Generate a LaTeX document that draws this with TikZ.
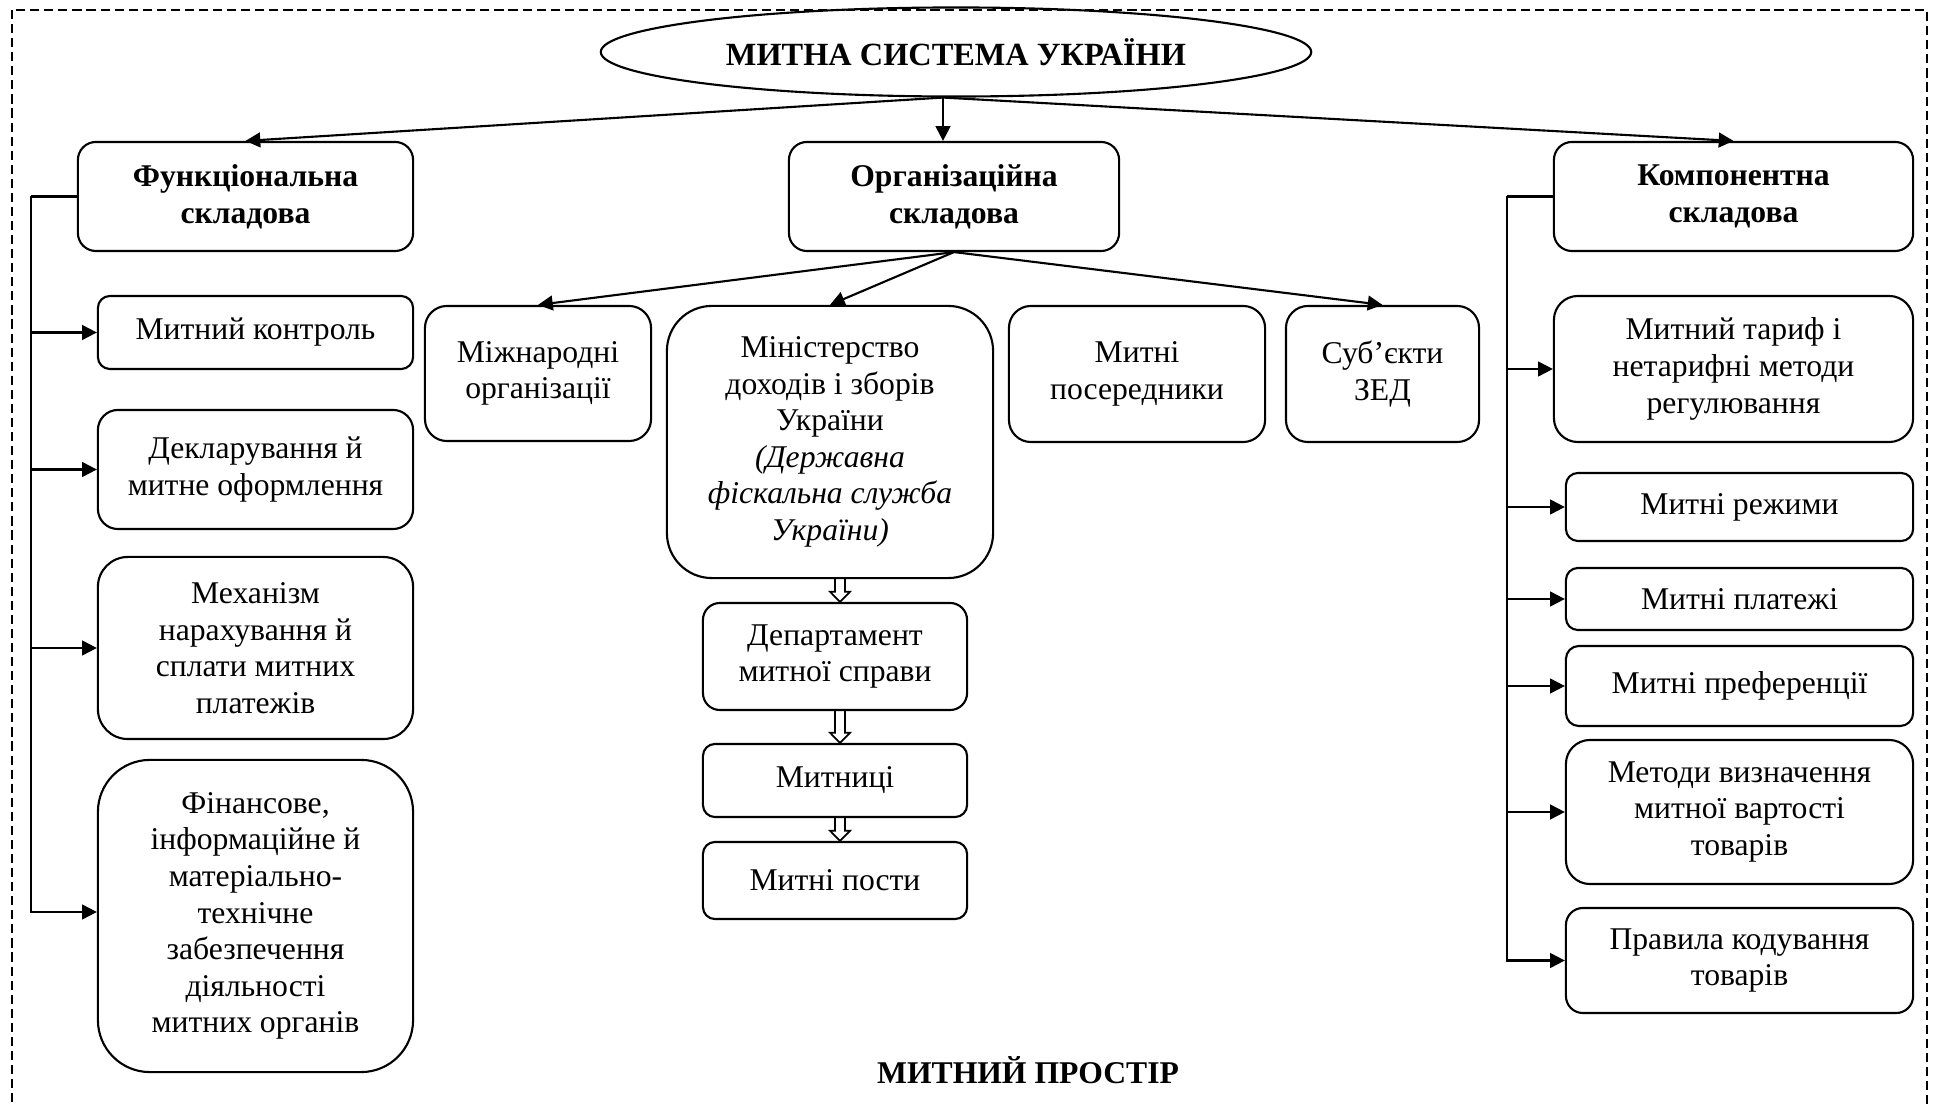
\documentclass[tikz,border=0pt]{standalone}
\usepackage{fontspec}
\setmainfont{Liberation Serif}
\usetikzlibrary{arrows.meta,calc,shapes.geometric}

\begin{document}
\begin{tikzpicture}[x=0.01cm, y=-0.01cm,
    box/.style={draw, line width=0.6pt, rounded corners=0.12cm, align=center, inner sep=0pt,
        minimum width=3.15cm, font=\fontsize{9}{10.4}\selectfont},
    head/.style={box, font=\fontsize{9}{10.4}\selectfont\bfseries},
    arr/.style={line width=0.6pt, -{Triangle[length=4.2pt,width=4.2pt]}},
    hollow/.style={line width=0.5pt, to path={let \p1=(\tikztostart), \p2=(\tikztotarget) in
        (\x2-1.4pt,\y1) -- (\x2-1.4pt,\y2+2.9pt) -- (\x2-2.85pt,\y2+2.9pt) -- (\x2,\y2)
        -- (\x2+2.85pt,\y2+2.9pt) -- (\x2+1.4pt,\y2+2.9pt) -- (\x2+1.4pt,\y1)}}]
    \useasboundingbox (0,0) rectangle (1937,1107);

    % Frame
    \draw[line width=0.45pt, dash pattern=on 2.6pt off 1.4pt] (12,10) rectangle (1927,1140);
    \node[font=\fontsize{9}{11}\selectfont\bfseries] (space) at (1028,1070) {МИТНИЙ ПРОСТІР};

    % Top
    \node[draw, ellipse, line width=0.6pt, inner sep=0pt, minimum width=7.1cm, minimum height=0.89cm,
        font=\fontsize{9.2}{11}\selectfont\bfseries] (title) at (956,52) {МИТНА СИСТЕМА УКРАЇНИ};
    \coordinate (ts) at ([xshift=-0.13cm]title.south);

    \node[head, minimum width=3.35cm, minimum height=1.09cm, rounded corners=0.18cm] (fun) at (245.5,196.5) {Функціональна\\складова};
    \node[head, minimum width=3.30cm, minimum height=1.09cm, rounded corners=0.18cm] (org) at (954,196.5) {Організаційна\\складова};
    \node[head, minimum width=3.59cm, minimum height=1.09cm, rounded corners=0.18cm] (comp) at (1733.5,196.5) {Компонентна\\складова};

    \draw[arr] (ts) -- (fun.north);
    \draw[arr] (ts) -- (ts |- org.north);
    \draw[arr] (ts) -- (comp.north);

    % Functional part
    \node[box, minimum height=0.73cm] (f1) at (255.5,332.5) {Митний контроль};
    \node[box, minimum height=1.19cm, rounded corners=0.2cm] (f2) at (255.5,469.5) {Декларування й\\митне оформлення};
    \node[box, minimum height=1.82cm, rounded corners=0.3cm] (f3) at (255.5,648) {Механізм\\нарахування й\\сплати митних\\платежів};
    \node[box, minimum height=3.12cm, rounded corners=0.52cm] (f4) at (255.5,916) {Фінансове,\\інформаційне й\\матеріально-\\технічне\\забезпечення\\діяльності\\митних органів};

    \coordinate (fl) at (31,196.5);
    \draw[line width=0.6pt] (fun.west) -- (fl);
    \draw[arr] (fl) |- ([yshift=0.04cm]f4.west);
    \foreach \n in {f1,f2,f3}
        \draw[arr] (fl |- \n.west) -- (\n.west);

    % Organizational part
    \node[box, minimum width=2.26cm, minimum height=1.35cm, rounded corners=0.22cm] (o1) at (538,373.5) {Міжнародні\\організації};
    \node[box, minimum width=3.26cm, minimum height=2.72cm, rounded corners=0.45cm] (o2) at (830,442) {Міністерство\\доходів і зборів\\України\\\textit{(Державна}\\\textit{фіскальна служба}\\\textit{України)}};
    \node[box, minimum width=2.56cm, minimum height=1.36cm, rounded corners=0.22cm] (o3) at (1137,374) {Митні\\посередники};
    \node[box, minimum width=1.93cm, minimum height=1.36cm, rounded corners=0.22cm] (o4) at (1382.5,374) {Суб’єкти\\ЗЕД};

    \draw[arr] (org.south) -- (o1.north);
    \draw[arr] (org.south) -- (o2.north);
    \draw[arr] (org.south) -- (o4.north);

    \node[box, minimum width=2.64cm, minimum height=1.07cm, rounded corners=0.17cm] (d1) at (835,656.5) {Департамент\\митної справи};
    \node[box, minimum width=2.64cm, minimum height=0.73cm] (d2) at (835,780.5) {Митниці};
    \node[box, minimum width=2.64cm, minimum height=0.77cm] (d3) at (835,880.5) {Митні пости};

    \draw[hollow] (o2.south) to ([xshift=0.05cm]d1.north);
    \draw[hollow] (d1.south) to ([xshift=0.05cm]d2.north);
    \draw[hollow] (d2.south) to ([xshift=0.05cm]d3.north);

    % Component part
    \node[box, minimum width=3.59cm, minimum height=1.46cm, rounded corners=0.24cm] (c1) at (1733.5,369) {Митний тариф і\\нетарифні методи\\регулювання};
    \node[box, minimum width=3.47cm, minimum height=0.68cm] (c2) at (1739.5,507) {Митні режими};
    \node[box, minimum width=3.47cm, minimum height=0.62cm] (c3) at (1739.5,599) {Митні платежі};
    \node[box, minimum width=3.47cm, minimum height=0.80cm, rounded corners=0.13cm] (c4) at (1739.5,686) {Митні преференції};
    \node[box, minimum width=3.47cm, minimum height=1.44cm, rounded corners=0.24cm] (c5) at (1739.5,812) {Методи визначення\\митної вартості\\товарів};
    \node[box, minimum width=3.47cm, minimum height=1.05cm, rounded corners=0.17cm] (c6) at (1739.5,960.5) {Правила кодування\\товарів};

    \coordinate (cl) at (1507,196.5);
    \draw[line width=0.6pt] (comp.west) -- (cl);
    \draw[arr] (cl) |- (c6.west);
    \foreach \n in {c1,c2,c3,c4,c5}
        \draw[arr] (cl |- \n.west) -- (\n.west);
\end{tikzpicture}
\end{document}
